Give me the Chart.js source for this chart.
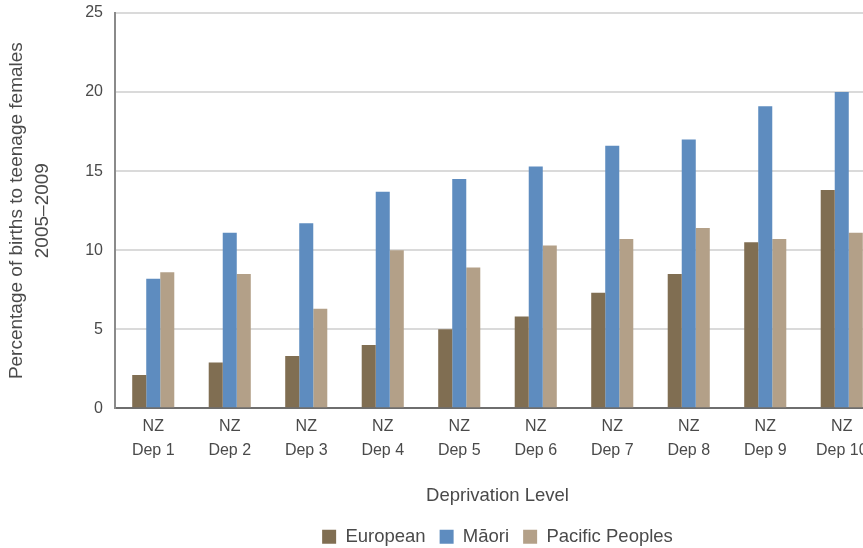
<!DOCTYPE html>
<html>
<head>
<meta charset="utf-8">
<script src="https://cdn.jsdelivr.net/npm/chart.js@4/dist/chart.umd.min.js"></script>
<style>
    html, body { margin: 0; padding: 0; background: #fff; overflow: hidden; }
    #wrap { width: 880px; height: 548px; }
</style>
</head>
<body>
<div id="wrap"><canvas id="teen_births_graph" width="880" height="548"></canvas></div>
<script>
// values
const categories = [["NZ","Dep 1"],["NZ","Dep 2"],["NZ","Dep 3"],["NZ","Dep 4"],["NZ","Dep 5"],
                    ["NZ","Dep 6"],["NZ","Dep 7"],["NZ","Dep 8"],["NZ","Dep 9"],["NZ","Dep 10"]];
const european = [2.1, 2.9, 3.3, 4.0, 5.0, 5.8, 7.3, 8.5, 10.5, 13.8];
const maori    = [8.2, 11.1, 11.7, 13.7, 14.5, 15.3, 16.6, 17.0, 19.1, 20.0];
const pacific  = [8.6, 8.5, 6.3, 10.0, 8.9, 10.3, 10.7, 11.4, 10.7, 11.1];
const y_ticks  = [0, 5, 10, 15, 20, 25];

const font_name = "'Liberation Sans', Arial, sans-serif";
const text_col  = "#4a4a4a";

Chart.defaults.font.family = font_name;
Chart.defaults.color = text_col;

const ctx     = document.getElementById("teen_births_graph").getContext("2d");
const myChart = new Chart(ctx, {
    type: "bar",
    data: {
        labels: categories,
        datasets: [
            { label: "European",        data: european, backgroundColor: "rgb(128,110,82)" },
            { label: "M\u0101ori",      data: maori,    backgroundColor: "rgb(94,140,191)" },
            { label: "Pacific Peoples", data: pacific,  backgroundColor: "rgb(179,160,136)" }
        ]
    },
    options: {
        responsive: false,
        animation: false,
        layout: { padding: { top: 13, right: 0, bottom: -8, left: 0 } },
        datasets: {
            bar: { categoryPercentage: 0.55, barPercentage: 1.0 }
        },
        scales: {
            x: {
                grid: { display: false, drawTicks: false },
                border: { display: true, color: "#6e6e6e", width: 2 },
                ticks: {
                    padding: 6,
                    maxRotation: 0,
                    autoSkip: false,
                    font: { size: 16, lineHeight: 1.5 }
                },
                title: {
                    display: true,
                    text: "Deprivation Level",
                    font: { size: 18.5 },
                    padding: { top: 17, bottom: 6 }
                }
            },
            y: {
                min: 0,
                max: 25,
                afterBuildTicks: (axis) => { axis.ticks = y_ticks.map(v => ({ value: v })); },
                afterFit: (axis) => { axis.width = 115; axis.paddingTop = 0; },
                grid: { color: "#dadada", lineWidth: 2, drawTicks: false },
                border: { display: true, color: "#8a8a8a", width: 2 },
                ticks: {
                    padding: 12,
                    font: { size: 16 }
                },
                title: {
                    display: true,
                    text: ["Percentage of births to teenage females", "2005\u20132009"],
                    font: { size: 19, lineHeight: 1.35 },
                    padding: { top: 4, bottom: 0 }
                }
            }
        },
        plugins: {
            legend: {
                position: "bottom",
                fullSize: false,
                labels: {
                    boxWidth: 14,
                    boxHeight: 14,
                    padding: 14,
                    font: { size: 18.5 }
                }
            },
            tooltip: { enabled: false }
        }
    }
});
</script>
</body>
</html>
